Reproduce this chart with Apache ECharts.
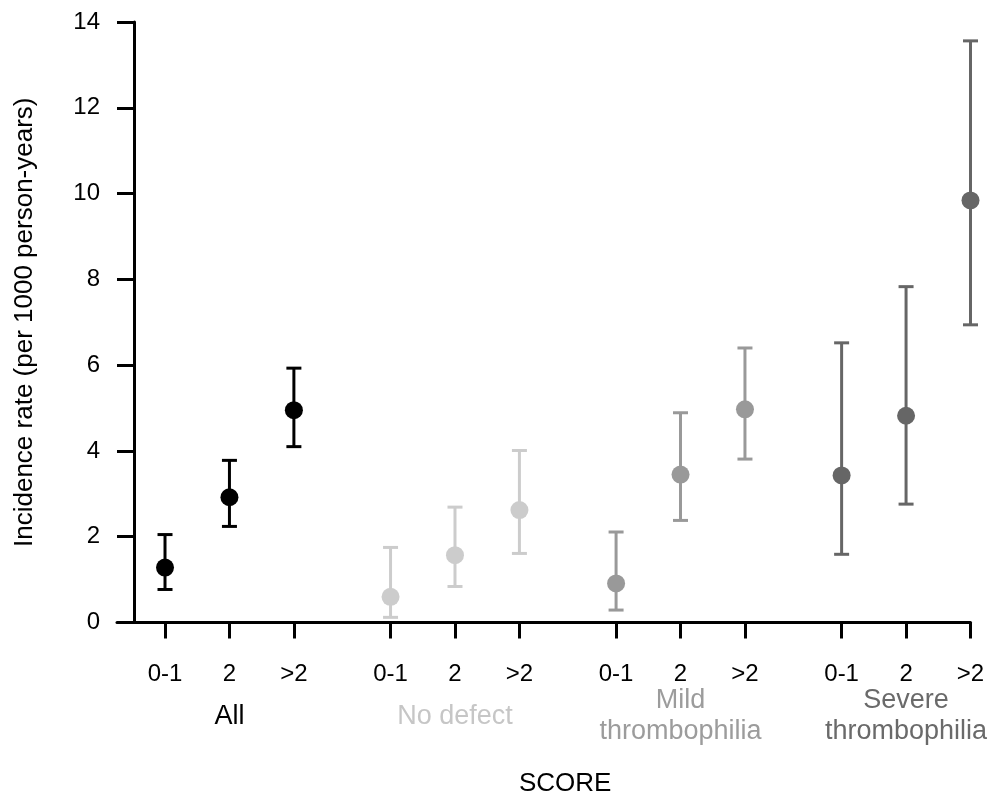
<!DOCTYPE html>
<html>
<head>
<meta charset="utf-8">
<script src="https://cdn.jsdelivr.net/npm/echarts@6/dist/echarts.min.js"></script>
<style>
html,body{margin:0;padding:0;background:#fff;}
#chart{width:992px;height:801px;}
</style>
</head>
<body>
<div id="chart"></div>
<script>
// ---- data ----
const groups = ['All', 'No defect', 'Mild\nthrombophilia', 'Severe\nthrombophilia'];
const scores = ['0-1', '2', '>2'];
const yTicks = [0, 2, 4, 6, 8, 10, 12, 14];

const allRate = [1.28, 2.92, 4.95];
const allLow = [0.77, 2.24, 4.10];
const allHigh = [2.05, 3.78, 5.93];

const noDefectRate = [0.60, 1.57, 2.62];
const noDefectLow = [0.12, 0.84, 1.61];
const noDefectHigh = [1.75, 2.69, 4.01];

const mildRate = [0.91, 3.45, 4.97];
const mildLow = [0.29, 2.38, 3.81];
const mildHigh = [2.11, 4.89, 6.40];

const severeRate = [3.43, 4.82, 9.84];
const severeLow = [1.59, 2.76, 6.94];
const severeHigh = [6.52, 7.83, 13.56];

const xTitle = 'SCORE';
const yTitle = 'Incidence rate (per 1000 person-years)';

// ---- styling / layout ----
const colors = ['#000000', '#cccccc', '#999999', '#666666'];
const labelColors = ['#000000', '#c6c6c6', '#9c9c9c', '#6a6a6a'];
const FONT = '"Liberation Sans", Arial, sans-serif';
const GROUP_STEP = 3.5;

const rates = [allRate, noDefectRate, mildRate, severeRate];
const lows = [allLow, noDefectLow, mildLow, severeLow];
const highs = [allHigh, noDefectHigh, mildHigh, severeHigh];

const xPos = (g, s) => g * GROUP_STEP + s;
const tickVals = [];
const tickNames = {};
groups.forEach((_, g) => scores.forEach((sc, s) => {
  const v = xPos(g, s); tickVals.push(v); tickNames[v] = sc;
}));
const groupCenters = groups.map((_, g) => xPos(g, 1));
const groupNameAt = {};
groupCenters.forEach((v, g) => groupNameAt[v] = g);

const rich = {};
groups.forEach((_, g) => {
  rich['g' + g] = {color: labelColors[g], fontSize: 27, fontFamily: FONT, lineHeight: 31, align: 'center'};
});

const series = [];
groups.forEach((name, g) => {
  series.push({
    type: 'custom',
    name: name + ' CI',
    xAxisIndex: 0, yAxisIndex: 0,
    data: scores.map((_, s) => [xPos(g, s), lows[g][s], highs[g][s]]),
    renderItem: function (params, api) {
      const x = api.value(0);
      const p1 = api.coord([x, api.value(1)]);
      const p2 = api.coord([x, api.value(2)]);
      const hw = 7.5;
      const st = {stroke: colors[g], lineWidth: 3};
      return {
        type: 'group',
        children: [
          {type: 'line', shape: {x1: p1[0], y1: p1[1], x2: p2[0], y2: p2[1]}, style: st},
          {type: 'line', shape: {x1: p1[0] - hw, y1: p1[1], x2: p1[0] + hw, y2: p1[1]}, style: st},
          {type: 'line', shape: {x1: p2[0] - hw, y1: p2[1], x2: p2[0] + hw, y2: p2[1]}, style: st}
        ]
      };
    },
    z: 2,
    silent: true
  });
  series.push({
    type: 'scatter',
    name: name,
    xAxisIndex: 0, yAxisIndex: 0,
    symbol: 'circle',
    symbolSize: 18,
    itemStyle: {color: colors[g], opacity: 1},
    data: scores.map((_, s) => [xPos(g, s), rates[g][s]]),
    z: 3,
    silent: true
  });
});

const chart = echarts.init(document.getElementById('chart'), null, {renderer: 'canvas'});
const XMIN = -0.745, XMAX = 12.5;
chart.setOption({
  animation: false,
  backgroundColor: '#ffffff',
  grid: {left: 117, right: 21.5, top: 22, bottom: 178.5, containLabel: false},
  xAxis: [{
    type: 'value', min: XMIN, max: XMAX, position: 'bottom',
    axisLine: {show: true, onZero: false, lineStyle: {color: '#000', width: 3}},
    axisTick: {show: true, inside: false, length: 16, lineStyle: {color: '#000', width: 3}, customValues: tickVals},
    axisLabel: {show: true, margin: 40, fontSize: 24, fontFamily: FONT, color: '#000', customValues: tickVals,
      formatter: v => tickNames[v] !== undefined ? tickNames[v] : (tickNames[Math.round(v * 10) / 10] || '')},
    splitLine: {show: false}
  }, {
    type: 'value', min: XMIN, max: XMAX, position: 'bottom',
    axisLine: {show: false, onZero: false}, axisTick: {show: false}, splitLine: {show: false},
    axisLabel: {show: true, margin: 94, verticalAlign: 'middle', customValues: groupCenters, rich: rich,
      formatter: v => {
        const g = groupNameAt[v];
        if (g === undefined) return '';
        return groups[g].split('\n').map(t => '{g' + g + '|' + t + '}').join('\n');
      }}
  }],
  yAxis: {
    type: 'value', min: 0, max: 14, interval: 2, offset: -17,
    name: yTitle, nameLocation: 'middle', nameGap: 96, nameRotate: 90,
    nameTextStyle: {fontSize: 26, fontFamily: FONT, color: '#000'},
    axisLine: {show: true, onZero: false, lineStyle: {color: '#000', width: 3}},
    axisTick: {show: true, inside: false, length: 17, lineStyle: {color: '#000', width: 3}},
    axisLabel: {margin: 34, fontSize: 24, fontFamily: FONT, color: '#000'},
    splitLine: {show: false}
  },
  graphic: [{
    type: 'text', left: 566 - 47, top: 785 - 14,
    style: {text: xTitle, fontSize: 26, fontFamily: FONT, fill: '#000'}
  }],
  series: series
});
</script>
</body>
</html>
